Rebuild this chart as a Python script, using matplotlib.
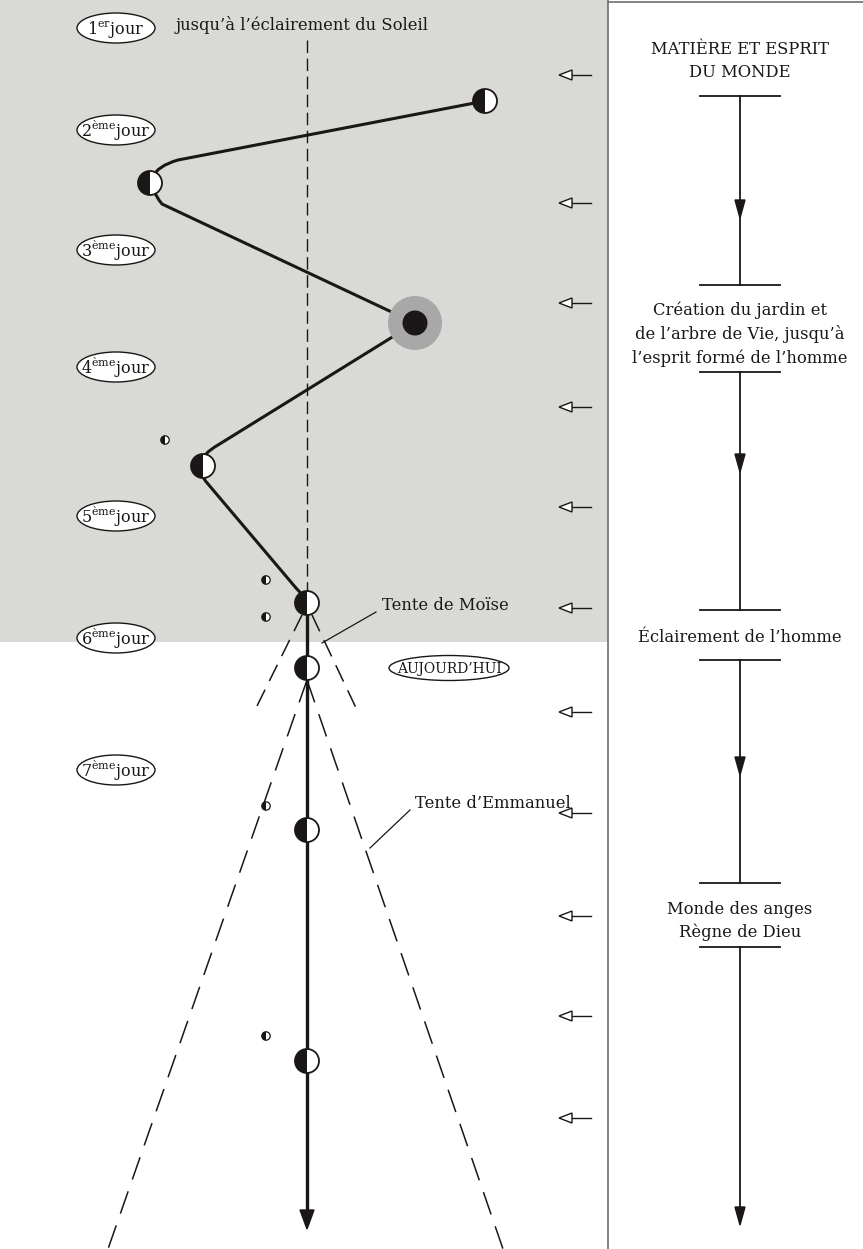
import matplotlib.pyplot as plt
from matplotlib.patches import Ellipse, Wedge, Circle, Polygon, Rectangle
from matplotlib.path import Path
from matplotlib.patches import PathPatch

plt.rcParams['font.family'] = 'DejaVu Serif'
plt.rcParams['lines.scale_dashes'] = False

# Day labels on the left
day_numbers = ['1', '2', '3', '4', '5', '6', '7']
day_sups = ['er', 'ème', 'ème', 'ème', 'ème', 'ème', 'ème']
day_y = [28, 130, 250, 367, 516, 638, 770]

# Zigzag path of the half moons (pixel coordinates of the scheme)
path_pts = [(485, 101), (178, 160), (136, 172), (162, 204), (415, 323),
            (218, 445), (188, 462), (208, 484), (296, 588), (304, 596), (307, 603)]
path_codes = [Path.MOVETO, Path.LINETO, Path.CURVE3, Path.CURVE3, Path.LINETO,
              Path.LINETO, Path.CURVE3, Path.CURVE3, Path.LINETO, Path.CURVE3, Path.CURVE3]

# Half moons (big) and small ones
moon_x = [485, 150, 203, 307, 307, 307, 307]
moon_y = [101, 183, 466, 603, 668, 830, 1061]
small_x = [165, 266, 266, 266, 266]
small_y = [440, 580, 617, 806, 1036]

# Sun (big circle)
sun_xy = (415, 323)

# Small arrows on the right of the grey zone
arrow_y = [75, 203, 303, 407, 507, 608, 712, 813, 916, 1016, 1118]

# Right column: stages
stage_texts = ["MATIÈRE ET ESPRIT\nDU MONDE",
               "Création du jardin et\nde l’arbre de Vie, jusqu’à\nl’esprit formé de l’homme",
               "Éclairement de l’homme",
               "Monde des anges\nRègne de Dieu"]
stage_text_y = [61, 334, 637, 921]
stage_top = [96, 372, 660, 947]
stage_bottom = [285, 610, 883, 1225]
stage_arrow_y = [218, 472, 775, 1225]

W, H = 863, 1249
fig = plt.figure(figsize=(W / 100, H / 100), dpi=100)
ax = fig.add_axes([0, 0, 1, 1])
ax.set_xlim(0, W)
ax.set_ylim(H, 0)
ax.axis('off')

ink = '#1a1716'

# grey zone and frame
ax.add_patch(Rectangle((0, 0), 608, 642, fc='#d9dad5', ec='none', zorder=0))
ax.plot([608, 608], [0, H], color='#6e6e6e', lw=1.2, zorder=1)
ax.plot([608, W], [1.5, 1.5], color='#6e6e6e', lw=1.2, zorder=1)

# day labels
for n, s, y in zip(day_numbers, day_sups, day_y):
    ax.add_patch(Ellipse((116, y), 78, 30, fc='white', ec=ink, lw=1.0, zorder=3))
    ax.text(116, y + 1, r'$\mathregular{%s^{%s}}$jour' % (n, s), ha='center', va='center',
            fontsize=11.5, color=ink, zorder=4)

# top label and dashed axis
ax.text(302, 25, 'jusqu’à l’éclairement du Soleil', ha='center', va='center',
        fontsize=11.8, color=ink)
ax.plot([307, 307], [40, 600], color=ink, lw=1.0, linestyle=(0, (9, 4)), zorder=2)

# zigzag
ax.add_patch(PathPatch(Path(path_pts, path_codes), fc='none', ec=ink, lw=2.2,
                       capstyle='round', zorder=3))

# sun
ax.add_patch(Circle(sun_xy, 27, fc='#a8a8a8', ec='none', zorder=5))
ax.add_patch(Circle(sun_xy, 12.5, fc=ink, ec='none', zorder=6))

# tents (dashed cones)
ax.plot([302, 255], [615, 710], color=ink, lw=1.1, linestyle=(0, (13, 7)), zorder=2)
ax.plot([312, 357], [615, 710], color=ink, lw=1.1, linestyle=(0, (13, 7)), zorder=2)
ax.plot([307, 108], [680, H], color=ink, lw=1.1, linestyle=(0, (17, 9)), zorder=2)
ax.plot([307, 503], [680, H], color=ink, lw=1.1, linestyle=(0, (17, 9)), zorder=2)

ax.plot([376, 322], [612, 643], color=ink, lw=0.9, zorder=2)
ax.text(382, 605, 'Tente de Moïse', ha='left', va='center', fontsize=11.8, color=ink)
ax.plot([410, 370], [810, 848], color=ink, lw=0.9, zorder=2)
ax.text(415, 803, 'Tente d’Emmanuel', ha='left', va='center', fontsize=11.8, color=ink)

# today
ax.add_patch(Ellipse((449, 668), 120, 25, fc='white', ec=ink, lw=1.0, zorder=3))
ax.text(449, 669, 'AUJOURD’HUI', ha='center', va='center', fontsize=10, color=ink, zorder=4)

# main vertical arrow
ax.plot([307, 307], [615, 1212], color=ink, lw=2.4, zorder=3)
ax.add_patch(Polygon([(300, 1210), (314, 1210), (307, 1229)], closed=True, fc=ink, ec=ink, zorder=4))

# moons
for x, y in zip(moon_x, moon_y):
    r = 12
    ax.add_patch(Wedge((x, y), r, 90, 270, fc=ink, ec='none', zorder=7))
    ax.add_patch(Wedge((x, y), r, 270, 90, fc='white', ec='none', zorder=7))
    ax.add_patch(Circle((x, y), r, fc='none', ec=ink, lw=1.3, zorder=8))
for x, y in zip(small_x, small_y):
    r = 4.2
    ax.add_patch(Wedge((x, y), r, 90, 270, fc=ink, ec='none', zorder=7))
    ax.add_patch(Wedge((x, y), r, 270, 90, fc='white', ec='none', zorder=7))
    ax.add_patch(Circle((x, y), r, fc='none', ec=ink, lw=0.9, zorder=8))

# small open arrows
for y in arrow_y:
    ax.plot([572, 591], [y, y], color=ink, lw=1.0)
    ax.add_patch(Polygon([(559, y), (572, y - 5), (572, y + 5)], closed=True,
                         fc='white', ec=ink, lw=1.0, zorder=3))

# right column
for txt, ty in zip(stage_texts, stage_text_y):
    ax.text(740, ty, txt, ha='center', va='center', fontsize=11.8, color=ink, linespacing=1.45)
for top, bot, ay in zip(stage_top, stage_bottom, stage_arrow_y):
    ax.plot([700, 780], [top, top], color=ink, lw=1.3)
    end = bot if bot < 1200 else ay - 15
    ax.plot([740, 740], [top, end], color=ink, lw=1.3)
    if bot < 1200:
        ax.plot([700, 780], [bot, bot], color=ink, lw=1.3)
    ax.add_patch(Polygon([(735, ay - 18), (745, ay - 18), (740, ay)], closed=True,
                         fc=ink, ec=ink, zorder=4))

fig.savefig('out.png', dpi=100)
